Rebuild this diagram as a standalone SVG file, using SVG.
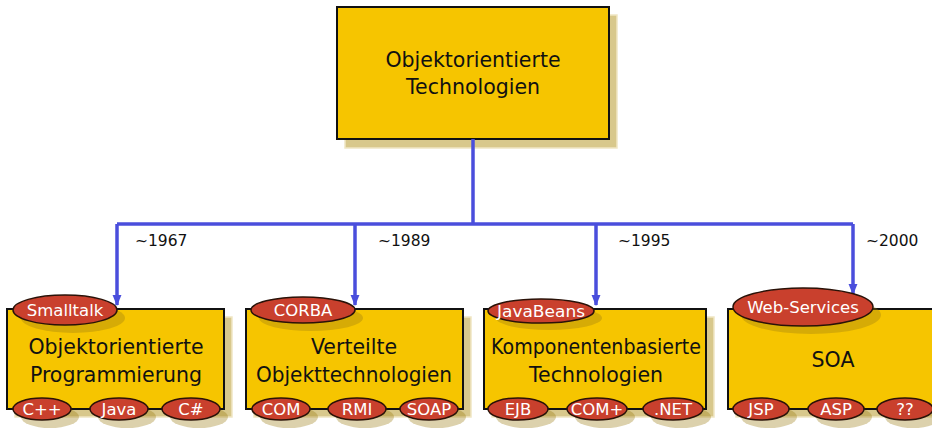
<svg xmlns="http://www.w3.org/2000/svg" width="932" height="428" viewBox="0 0 932 428">
  <defs>
    <marker id="arrow" viewBox="0 0 10 10" refX="9" refY="5" markerWidth="3.2" markerHeight="3.2" orient="auto" markerUnits="strokeWidth">
      <path d="M0,1 L10,5 L0,9 Z" fill="#4a4edc"/>
    </marker>
    <style>
      .box { fill: #f6c500; stroke: #111; stroke-width: 2; }
      .shadow { fill: #d8c88c; stroke: #f0e6c4; stroke-width: 1.5; }
      .title { font-family: "DejaVu Sans", "Liberation Sans", sans-serif; font-size: 20.5px; fill: #111; text-anchor: middle; }
      .tag { fill: #c9402d; stroke: #2a1208; stroke-width: 1.5; }
      .tagshadow { fill: #9a7a10; opacity: 0.35; }
      .tagtext { font-family: "DejaVu Sans", "Liberation Sans", sans-serif; font-size: 16.5px; fill: #ffffff; text-anchor: middle; }
      .link { fill: none; stroke: #4a4edc; stroke-width: 3.5; }
      .year { font-family: "DejaVu Sans", "Liberation Sans", sans-serif; font-size: 15.5px; fill: #111; }
    </style>
  </defs>

  <!-- root node -->
  <g id="root">
    <rect class="shadow" x="345" y="15" width="272" height="133"/>
    <rect class="box" x="337" y="7" width="272" height="132"/>
    <text class="title" x="473" y="67">Objektorientierte</text>
    <text class="title" x="473" y="94">Technologien</text>
  </g>

  <!-- connectors -->
  <g id="connectors">
    <path class="link" d="M473,139 V224"/>
    <path class="link" d="M117,224 H853"/>
    <path class="link" d="M117,224 V305" marker-end="url(#arrow)"/>
    <path class="link" d="M355,224 V305" marker-end="url(#arrow)"/>
    <path class="link" d="M596,224 V305" marker-end="url(#arrow)"/>
    <path class="link" d="M853,224 V294" marker-end="url(#arrow)"/>
    <text class="year" x="135" y="246">~1967</text>
    <text class="year" x="378" y="246">~1989</text>
    <text class="year" x="618" y="246">~1995</text>
    <text class="year" x="866" y="246">~2000</text>
  </g>

  <!-- OOP -->
  <g id="oop">
    <rect class="shadow" x="15" y="317" width="217" height="100"/>
    <rect class="box" x="7" y="309" width="217" height="100"/>
    <ellipse class="tagshadow" cx="73" cy="318" rx="52" ry="15"/>
    <ellipse class="tag" cx="65" cy="310" rx="52" ry="15"/>
    <text class="tagtext" x="65" y="316">Smalltalk</text>
    <text class="title" x="116" y="354">Objektorientierte</text>
    <text class="title" x="116" y="382">Programmierung</text>
    <ellipse class="tagshadow" cx="50" cy="417" rx="29" ry="11"/>
    <ellipse class="tagshadow" cx="127" cy="417" rx="29" ry="11"/>
    <ellipse class="tagshadow" cx="199" cy="417" rx="29" ry="11"/>
    <ellipse class="tag" cx="42" cy="409" rx="29" ry="11"/>
    <text class="tagtext" x="42" y="415">C++</text>
    <ellipse class="tag" cx="119" cy="409" rx="29" ry="11"/>
    <text class="tagtext" x="119" y="415">Java</text>
    <ellipse class="tag" cx="191" cy="409" rx="29" ry="11"/>
    <text class="tagtext" x="191" y="415">C#</text>
  </g>

  <!-- distributed objects -->
  <g id="distributed">
    <rect class="shadow" x="254" y="317" width="217" height="100"/>
    <rect class="box" x="246" y="309" width="217" height="100"/>
    <ellipse class="tagshadow" cx="311" cy="318" rx="52" ry="13"/>
    <ellipse class="tag" cx="303" cy="310" rx="52" ry="13"/>
    <text class="tagtext" x="303" y="316">CORBA</text>
    <text class="title" x="354" y="354">Verteilte</text>
    <text class="title" x="354" y="382" textLength="196" lengthAdjust="spacingAndGlyphs">Objekttechnologien</text>
    <ellipse class="tagshadow" cx="289" cy="417" rx="29" ry="11"/>
    <ellipse class="tagshadow" cx="365" cy="417" rx="29" ry="11"/>
    <ellipse class="tagshadow" cx="437" cy="417" rx="29" ry="11"/>
    <ellipse class="tag" cx="281" cy="409" rx="29" ry="11"/>
    <text class="tagtext" x="281" y="415">COM</text>
    <ellipse class="tag" cx="357" cy="409" rx="29" ry="11"/>
    <text class="tagtext" x="357" y="415">RMI</text>
    <ellipse class="tag" cx="429" cy="409" rx="29" ry="11"/>
    <text class="tagtext" x="429" y="415">SOAP</text>
  </g>

  <!-- components -->
  <g id="components">
    <rect class="shadow" x="492" y="317" width="222" height="100"/>
    <rect class="box" x="484" y="309" width="222" height="100"/>
    <ellipse class="tagshadow" cx="549" cy="318" rx="53" ry="12"/>
    <ellipse class="tag" cx="541" cy="311" rx="53" ry="12"/>
    <text class="tagtext" x="541" y="317" textLength="88" lengthAdjust="spacingAndGlyphs">JavaBeans</text>
    <text class="title" x="596" y="354" textLength="210" lengthAdjust="spacingAndGlyphs">Komponentenbasierte</text>
    <text class="title" x="596" y="382">Technologien</text>
    <ellipse class="tagshadow" cx="526" cy="417" rx="30" ry="11"/>
    <ellipse class="tagshadow" cx="605" cy="417" rx="30" ry="11"/>
    <ellipse class="tagshadow" cx="681" cy="417" rx="30" ry="11"/>
    <ellipse class="tag" cx="518" cy="409" rx="30" ry="11"/>
    <text class="tagtext" x="518" y="415">EJB</text>
    <ellipse class="tag" cx="597" cy="409" rx="30" ry="11"/>
    <text class="tagtext" x="597" y="415">COM+</text>
    <ellipse class="tag" cx="673" cy="409" rx="30" ry="11"/>
    <text class="tagtext" x="673" y="415">.NET</text>
  </g>

  <!-- SOA -->
  <g id="soa">
    <rect class="shadow" x="736" y="317" width="210" height="100"/>
    <rect class="box" x="728" y="309" width="210" height="100"/>
    <ellipse class="tagshadow" cx="811" cy="315" rx="70" ry="19"/>
    <ellipse class="tag" cx="803" cy="307" rx="70" ry="19"/>
    <text class="tagtext" x="803" y="313">Web-Services</text>
    <text class="title" x="833" y="367">SOA</text>
    <ellipse class="tagshadow" cx="769" cy="417" rx="28" ry="11"/>
    <ellipse class="tagshadow" cx="844" cy="417" rx="28" ry="11"/>
    <ellipse class="tagshadow" cx="913" cy="417" rx="28" ry="11"/>
    <ellipse class="tag" cx="761" cy="409" rx="28" ry="11"/>
    <text class="tagtext" x="761" y="415">JSP</text>
    <ellipse class="tag" cx="836" cy="409" rx="28" ry="11"/>
    <text class="tagtext" x="836" y="415">ASP</text>
    <ellipse class="tag" cx="905" cy="409" rx="28" ry="11"/>
    <text class="tagtext" x="905" y="415">??</text>
  </g>
</svg>
